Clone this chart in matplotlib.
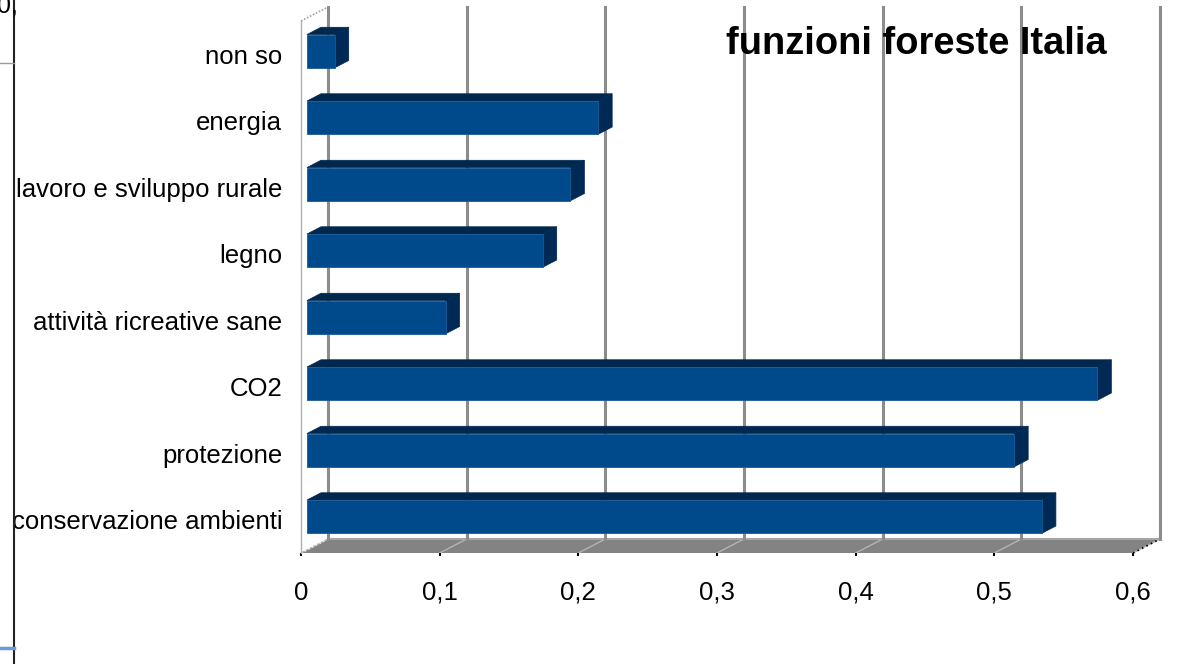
import matplotlib
matplotlib.use("Agg")
import matplotlib.pyplot as plt
from matplotlib.patches import Polygon, Rectangle
from matplotlib.lines import Line2D

# data (bottom to top)
categories = ["conservazione ambienti", "protezione", "CO2",
              "attività ricreative sane", "legno",
              "lavoro e sviluppo rurale", "energia", "non so"]
values = [0.53, 0.51, 0.57, 0.10, 0.17, 0.19, 0.21, 0.02]
x_ticks = [0, 0.1, 0.2, 0.3, 0.4, 0.5, 0.6]
x_tick_labels = ["0", "0,1", "0,2", "0,3", "0,4", "0,5", "0,6"]
title = "funzioni foreste Italia"

plt.rcParams["font.family"] = ["Liberation Sans", "DejaVu Sans"]

W, H = 1201, 664
fig = plt.figure(figsize=(W / 100, H / 100), dpi=100)
fig.patch.set_facecolor("white")

# front plane of the pseudo 3d box
ax = fig.add_axes([301 / W, 111 / H, 832 / W, 532 / H])
ax.set_xlim(0, 0.6)
ax.set_ylim(-0.5, len(categories) - 0.5)
for s in ax.spines.values():
    s.set_visible(False)
ax.patch.set_visible(False)

# depth of the box (pixels) converted to data units
px0 = ax.transData.transform((0, 0))
px1 = ax.transData.transform((1, 1))
ddx = 27 / (px1[0] - px0[0])
ddy = 14 / (px1[1] - px0[1])

y_lo, y_hi = -0.5, len(categories) - 0.5
x_max = x_ticks[-1]

# floor
floor = Polygon([(0, y_lo), (x_max, y_lo), (x_max + ddx, y_lo + ddy), (ddx, y_lo + ddy)],
                closed=True, fc="#838383", ec="none", clip_on=False, zorder=1)
ax.add_patch(floor)
ax.plot([ddx, x_max + ddx], [y_lo + ddy, y_lo + ddy], color="#a6a6a6", lw=1.5,
        clip_on=False, zorder=1.6)
for t in x_ticks:
    ax.plot([t, t + ddx], [y_lo, y_lo + ddy], color="#b4b4b4", lw=1, clip_on=False, zorder=1.5)
ax.plot([x_max, x_max + ddx], [y_lo, y_lo + ddy], color="black", lw=1.2, ls=(0, (1, 2)),
        clip_on=False, zorder=1.7)
ax.plot([0, ddx], [y_lo, y_lo + ddy], color="white", lw=1, ls=(0, (1, 2)),
        clip_on=False, zorder=1.7)

# back wall grid lines
for t in x_ticks:
    ax.plot([t + ddx, t + ddx], [y_lo + ddy, y_hi + ddy], color="#8c8c8c", lw=2.2,
            clip_on=False, zorder=2)

# left wall edges
ax.plot([0, 0], [y_lo, y_hi], color="#b0b0b0", lw=1, clip_on=False, zorder=2)
ax.plot([0, ddx], [y_hi, y_hi + ddy], color="#a0a0a0", lw=1.2, ls=(0, (1, 1)),
        clip_on=False, zorder=2)

# bars
f, b, hh = 0.22, 0.74, 0.25
for i, v in enumerate(values):
    x0, y0 = f * ddx, i - hh + f * ddy
    top_y = i + hh
    top = Polygon([(f * ddx, top_y + f * ddy), (v + f * ddx, top_y + f * ddy),
                   (v + b * ddx, top_y + b * ddy), (b * ddx, top_y + b * ddy)],
                  closed=True, fc="#00284f", ec="#00284f", lw=0.5, clip_on=False, zorder=3)
    side = Polygon([(v + f * ddx, i - hh + f * ddy), (v + f * ddx, top_y + f * ddy),
                    (v + b * ddx, top_y + b * ddy), (v + b * ddx, i - hh + b * ddy)],
                   closed=True, fc="#002a55", ec="#002a55", lw=0.5, clip_on=False, zorder=3)
    front = Rectangle((x0, y0), v, 2 * hh, fc="#004a8c", ec="#1a5a96", lw=0.6,
                      clip_on=False, zorder=4)
    ax.add_patch(top)
    ax.add_patch(side)
    ax.add_patch(front)

# ticks and labels
ax.set_xticks(x_ticks, x_tick_labels)
ax.set_yticks(range(len(categories)), categories)
ax.tick_params(axis="x", length=2, width=1.5, color="black", pad=18, labelsize=18.5)
ax.tick_params(axis="y", length=0, pad=13.5, labelsize=18.5)

fig.text(1107 / W, 1 - 54 / H, title, ha="right", va="baseline",
         fontsize=27.4, fontweight="bold", zorder=10)

# bits of the neighbouring window on the left edge
fig.add_artist(Line2D([14 / W, 14 / W], [0, 1], color="#222222", lw=1.5))
fig.add_artist(Line2D([0, 14 / W], [1 - 63 / H, 1 - 63 / H], color="#9a9a9a", lw=1))
fig.add_artist(Line2D([0, 14 / W], [1 - 648 / H, 1 - 648 / H], color="#6a9bd8", lw=2.5))
fig.text(-3 / W, 1 - 12 / H, "0,", ha="left", va="baseline", fontsize=18)

fig.savefig("out.png", dpi=100, facecolor="white")
